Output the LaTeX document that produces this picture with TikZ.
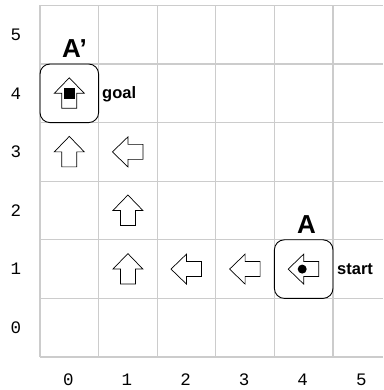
\documentclass[tikz,border=0pt]{standalone}
\usepackage{fontspec}
\setmainfont{Liberation Sans}
\newfontfamily\digitfont{Liberation Mono}
\begin{document}
\begin{tikzpicture}[x=1pt,y=1pt,
  gridline/.style={draw=black!20, line width=1.1pt},
  cellbox/.style={draw=black, line width=0.9pt, rounded corners=10pt},
  blockarrow/.pic={\draw[line width=0.7pt, fill=white, line join=miter]
      (0,15.5) -- (15,0) -- (7.5,0) -- (7.5,-15) -- (-7.5,-15) -- (-7.5,0) -- (-15,0) -- cycle;},
  axislabel/.style={font=\digitfont\fontsize{17.5}{17.5}\selectfont, inner sep=0pt},
  biglabel/.style={font=\bfseries\fontsize{26}{26}\selectfont, inner sep=0pt},
  smalllabel/.style={font=\bfseries\fontsize{16.5}{16.5}\selectfont, inner sep=0pt}
]
\def\u{58.6}
\useasboundingbox (-40,-33) rectangle (343,357);
% grid
\foreach \i in {0,...,5} \draw[gridline] (\i*\u,0) -- (\i*\u,6*\u);
\foreach \j in {0,...,6} \draw[gridline] (0,\j*\u) -- (343,\j*\u);
% axis labels
\foreach \i in {0,...,5} {
  \node[axislabel] (cx\i) at ({(\i+0.5)*\u-1},-23) {\i};
  \node[axislabel] (ry\i) at (-24,{(\i+0.5)*\u}) {\i};
}
% boxes
\node[cellbox, minimum width=\u pt, minimum height=\u pt, inner sep=0pt] (goalbox) at (0.5*\u,4.5*\u) {};
\node[cellbox, minimum width=\u pt, minimum height=\u pt, inner sep=0pt] (startbox) at (4.5*\u,1.5*\u) {};
% arrows up
\pic at (0.5*\u,3.5*\u) {blockarrow};
\pic at (1.5*\u,2.5*\u) {blockarrow};
\pic at (1.5*\u,1.5*\u) {blockarrow};
\pic at (0.5*\u,4.5*\u) {blockarrow};
% arrows left
\pic[rotate=90] at (1.5*\u,3.5*\u) {blockarrow};
\pic[rotate=90] at (2.5*\u,1.5*\u) {blockarrow};
\pic[rotate=90] at (3.5*\u,1.5*\u) {blockarrow};
\pic[rotate=90] at (4.5*\u,1.5*\u) {blockarrow};
% markers
\node[fill=black, minimum size=11pt, inner sep=0pt] (goalmark) at (0.5*\u,4.5*\u) {};
\node[circle, fill=black, minimum size=9pt, inner sep=0pt] (startmark) at (4.5*\u-1.5,1.5*\u) {};
% labels
\node[biglabel, anchor=base west] (aprime) at (22,299.5) {A’};
\node[biglabel, anchor=base west] (alabel) at (257,123.5) {A};
\node[smalllabel, anchor=base west] (goal) at (62,258) {goal};
\node[smalllabel, anchor=base west] (start) at (297,82.7) {start};
\end{tikzpicture}
\end{document}
